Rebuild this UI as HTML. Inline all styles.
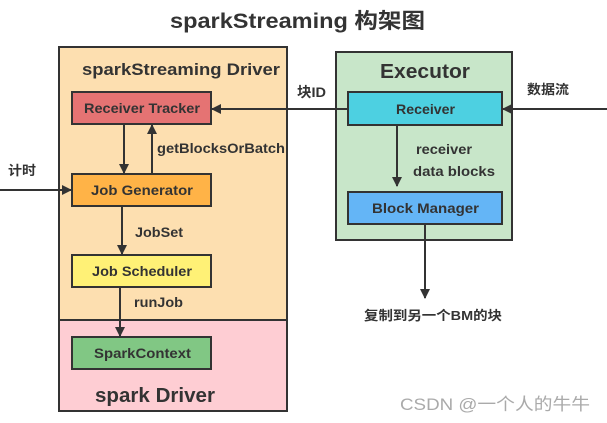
<!DOCTYPE html>
<html><head><meta charset="utf-8"><style>
html,body{margin:0;padding:0;background:#fff;width:607px;height:423px;overflow:hidden}
svg text{font-family:"Liberation Sans","Noto Sans CJK SC",sans-serif;font-weight:bold;fill:#333}
</style></head><body>
<svg width="607" height="423" viewBox="0 0 607 423" xmlns="http://www.w3.org/2000/svg">
<defs><marker id="a" markerWidth="10" markerHeight="10" refX="9" refY="5" orient="auto" markerUnits="userSpaceOnUse"><path d="M0,0 L10,5 L0,10 z" fill="#333"/></marker></defs>
<text x="170" y="28" font-size="21" textLength="255" lengthAdjust="spacingAndGlyphs">sparkStreaming 构架图</text>
<rect x="59" y="47" width="228" height="273" fill="#fddfb0" stroke="#333" stroke-width="2"/>
<rect x="59" y="320" width="228" height="91" fill="#fecdd3" stroke="#333" stroke-width="2"/>
<text x="82" y="75" font-size="17" textLength="198" lengthAdjust="spacingAndGlyphs">sparkStreaming Driver</text>
<text x="95" y="402" font-size="20" textLength="120" lengthAdjust="spacingAndGlyphs">spark Driver</text>
<rect x="72" y="92" width="139" height="32" fill="#e57373" stroke="#333" stroke-width="2"/>
<text x="84" y="113" font-size="14" textLength="116" lengthAdjust="spacingAndGlyphs">Receiver Tracker</text>
<rect x="72" y="174" width="139" height="32" fill="#ffb347" stroke="#333" stroke-width="2"/>
<text x="91" y="195" font-size="14" textLength="102" lengthAdjust="spacingAndGlyphs">Job Generator</text>
<rect x="72" y="255" width="139" height="32" fill="#fff176" stroke="#333" stroke-width="2"/>
<text x="92" y="276" font-size="14" textLength="100" lengthAdjust="spacingAndGlyphs">Job Scheduler</text>
<rect x="72" y="337" width="139" height="32" fill="#81c784" stroke="#333" stroke-width="2"/>
<text x="94" y="358" font-size="14" textLength="97" lengthAdjust="spacingAndGlyphs">SparkContext</text>
<rect x="336" y="52" width="176" height="188" fill="#c8e6c9" stroke="#333" stroke-width="2"/>
<text x="380" y="78" font-size="20" textLength="90" lengthAdjust="spacingAndGlyphs">Executor</text>
<rect x="348" y="92" width="154" height="33" fill="#4dd0e1" stroke="#333" stroke-width="2"/>
<text x="396" y="114" font-size="14" textLength="59" lengthAdjust="spacingAndGlyphs">Receiver</text>
<rect x="348" y="192" width="154" height="32" fill="#64b5f6" stroke="#333" stroke-width="2"/>
<text x="372" y="213" font-size="14" textLength="107" lengthAdjust="spacingAndGlyphs">Block Manager</text>
<g stroke="#333" stroke-width="2" fill="none">
<line x1="124" y1="124" x2="124" y2="173" marker-end="url(#a)"/>
<line x1="152" y1="174" x2="152" y2="125" marker-end="url(#a)"/>
<line x1="0" y1="190" x2="71" y2="190" marker-end="url(#a)"/>
<line x1="122" y1="206" x2="122" y2="254" marker-end="url(#a)"/>
<line x1="120" y1="287" x2="120" y2="336" marker-end="url(#a)"/>
<line x1="348" y1="109" x2="212" y2="109" marker-end="url(#a)"/>
<line x1="607" y1="109" x2="503" y2="109" marker-end="url(#a)"/>
<line x1="397" y1="125" x2="397" y2="186" marker-end="url(#a)"/>
<line x1="425" y1="224" x2="425" y2="298" marker-end="url(#a)"/>
</g>
<text x="157" y="153" font-size="14" textLength="128" lengthAdjust="spacingAndGlyphs">getBlocksOrBatch</text>
<text x="8" y="175" font-size="13" textLength="28" lengthAdjust="spacingAndGlyphs">计时</text>
<text x="135" y="237" font-size="14" textLength="48" lengthAdjust="spacingAndGlyphs">JobSet</text>
<text x="134" y="307" font-size="14" textLength="49" lengthAdjust="spacingAndGlyphs">runJob</text>
<text x="297" y="97" font-size="14" textLength="29" lengthAdjust="spacingAndGlyphs">块ID</text>
<text x="527" y="94" font-size="13" textLength="42" lengthAdjust="spacingAndGlyphs">数据流</text>
<text x="416" y="154" font-size="14" textLength="56" lengthAdjust="spacingAndGlyphs">receiver</text>
<text x="413" y="176" font-size="14" textLength="82" lengthAdjust="spacingAndGlyphs">data blocks</text>
<text x="364" y="320" font-size="13" textLength="138" lengthAdjust="spacingAndGlyphs">复制到另一个BM的块</text>
<text x="400" y="410" font-size="17" textLength="190" lengthAdjust="spacingAndGlyphs" style="font-weight:normal;fill:#aaa">CSDN @一个人的牛牛</text>
</svg>
</body></html>
